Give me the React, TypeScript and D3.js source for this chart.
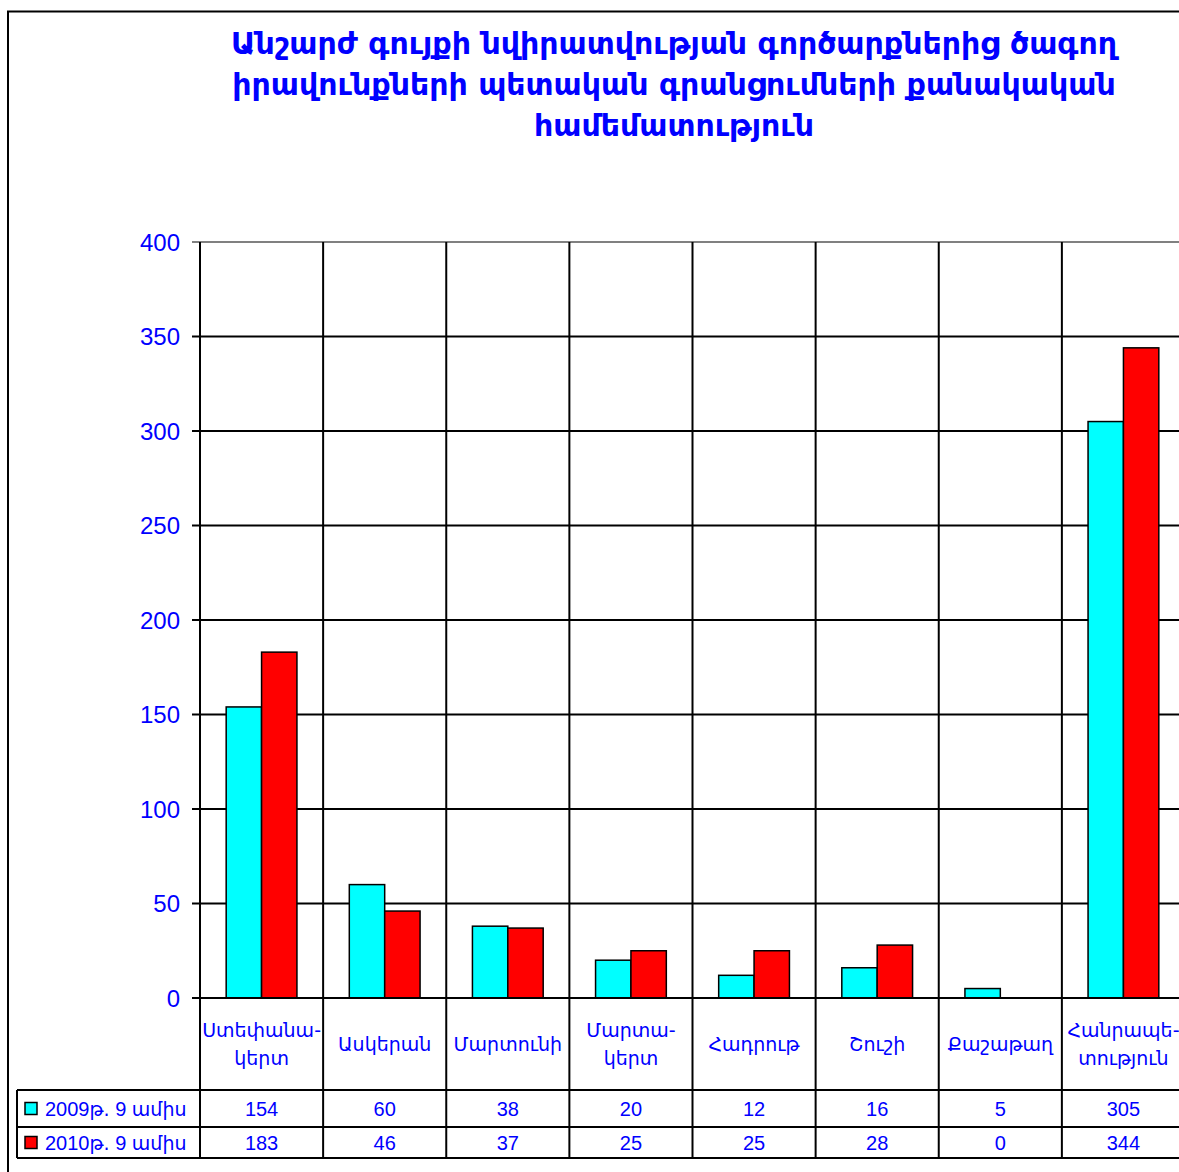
import React from "react";
import * as d3 from "d3";

// Chart data
const categories = [
  "Ստեփանա-\nկերտ",
  "Ասկերան",
  "Մարտունի",
  "Մարտա-\nկերտ",
  "Հադրութ",
  "Շուշի",
  "Քաշաթաղ",
  "Հանրապե-\nտություն",
];
const seriesNames = ["2009թ. 9 ամիս", "2010թ. 9 ամիս"];
const values2009 = [154, 60, 38, 20, 12, 16, 5, 305];
const values2010 = [183, 46, 37, 25, 25, 28, 0, 344];
const yTicks = [0, 50, 100, 150, 200, 250, 300, 350, 400];
const titleLines = [
  "Անշարժ գույքի նվիրատվության գործարքներից ծագող",
  "իրավունքների պետական գրանցումների քանակական",
  "համեմատություն",
];

const colors = ["#00ffff", "#ff0000"];
const blue = "#0000ff";
const armFont = "'DejaVu Sans', sans-serif";
const numFont = "'Liberation Sans', Arial, sans-serif";

const W = 1179;
const H = 1172;
const plotLeft = 200;
const plotRight = 1185;
const plotTop = 242;
const plotBottom = 998;
const row1Bottom = 1090;
const row2Bottom = 1127;
const row3Bottom = 1158;
const tableLeft = 17;

export default function App() {
  const series = [values2009, values2010];

  const x = d3
    .scaleBand<number>()
    .domain(d3.range(categories.length))
    .range([plotLeft, plotRight])
    .padding(0);

  const x1 = d3
    .scaleBand<number>()
    .domain([0, 1])
    .range([0, x.bandwidth()])
    .paddingInner(0)
    .paddingOuter(0.74);

  const y = d3.scaleLinear().domain([0, 400]).range([plotBottom, plotTop]);

  const rowTops = [row1Bottom, row2Bottom];
  const rowBottoms = [row2Bottom, row3Bottom];

  return (
    <svg
      width={W}
      height={H}
      style={{ position: "absolute", left: 0, top: 0, background: "#fff" }}
    >
      {/* outer frame */}
      <rect x={8} y={11.5} width={W + 20} height={H + 20} fill="none" stroke="#000" strokeWidth={2} />

      {/* title */}
      <text
        x={674}
        fill={blue}
        fontFamily={armFont}
        fontWeight="bold"
        fontSize={30}
        textAnchor="middle"
      >
        {titleLines.map((t, i) => (
          <tspan key={i} x={674} y={54 + i * 41}>
            {t}
          </tspan>
        ))}
      </text>

      {/* horizontal gridlines + ticks */}
      {yTicks.map((t) => (
        <g key={t}>
          <line
            x1={plotLeft - 8}
            x2={plotRight}
            y1={y(t)}
            y2={y(t)}
            stroke={t === 400 ? "#808080" : "#000"}
            strokeWidth={2}
          />
          <text
            x={180}
            y={y(t)}
            dy="0.36em"
            textAnchor="end"
            fill={blue}
            fontFamily={numFont}
            fontSize={24}
          >
            {t}
          </text>
        </g>
      ))}

      {/* vertical category lines through plot and table */}
      {d3.range(categories.length + 1).map((i) => {
        const xx = plotLeft + i * x.step();
        return (
          <line
            key={i}
            x1={xx}
            x2={xx}
            y1={plotTop}
            y2={row3Bottom}
            stroke="#000"
            strokeWidth={2}
          />
        );
      })}

      {/* bars */}
      {categories.map((_, ci) =>
        series.map((vals, si) => {
          const v = vals[ci];
          if (v === 0) return null;
          return (
            <rect
              key={`${ci}-${si}`}
              x={(x(ci) as number) + (x1(si) as number)}
              y={y(v)}
              width={x1.bandwidth()}
              height={y(0) - y(v)}
              fill={colors[si]}
              stroke="#000"
              strokeWidth={1.5}
            />
          );
        })
      )}

      {/* table lines */}
      <line x1={plotLeft} x2={plotRight} y1={plotBottom} y2={plotBottom} stroke="#000" strokeWidth={2} />
      {[row1Bottom, row2Bottom, row3Bottom].map((yy) => (
        <line key={yy} x1={tableLeft} x2={plotRight} y1={yy} y2={yy} stroke="#000" strokeWidth={2} />
      ))}
      <line x1={tableLeft} x2={tableLeft} y1={row1Bottom} y2={row3Bottom} stroke="#000" strokeWidth={2} />

      {/* category labels */}
      {categories.map((c, ci) => {
        const lines = c.split("\n");
        const cx = (x(ci) as number) + x.bandwidth() / 2;
        const midY = (plotBottom + row1Bottom) / 2;
        return (
          <text
            key={ci}
            textAnchor="middle"
            fill={blue}
            fontFamily={armFont}
            fontSize={19}
          >
            {lines.map((l, li) => (
              <tspan
                key={li}
                x={cx}
                y={midY + (li - (lines.length - 1) / 2) * 28}
                dy="0.35em"
              >
                {l}
              </tspan>
            ))}
          </text>
        );
      })}

      {/* legend cells + values */}
      {series.map((vals, si) => {
        const top = rowTops[si];
        const bottom = rowBottoms[si];
        const midY = (top + bottom) / 2;
        return (
          <g key={si}>
            <rect
              x={25}
              y={midY - 6}
              width={12}
              height={12}
              fill={colors[si]}
              stroke="#000"
              strokeWidth={1.5}
            />
            <text
              x={45}
              y={midY}
              dy="0.36em"
              fill={blue}
              fontFamily={numFont}
              fontSize={20}
            >
              {seriesNames[si].replace(/թ\. 9 ամիս/, "")}
              <tspan fontFamily={armFont} fontSize={19}>
                թ.
              </tspan>
              {" 9 "}
              <tspan fontFamily={armFont} fontSize={19}>
                ամիս
              </tspan>
            </text>
            {vals.map((v, ci) => (
              <text
                key={ci}
                x={(x(ci) as number) + x.bandwidth() / 2}
                y={midY}
                dy="0.36em"
                textAnchor="middle"
                fill={blue}
                fontFamily={numFont}
                fontSize={20}
              >
                {v}
              </text>
            ))}
          </g>
        );
      })}
    </svg>
  );
}
